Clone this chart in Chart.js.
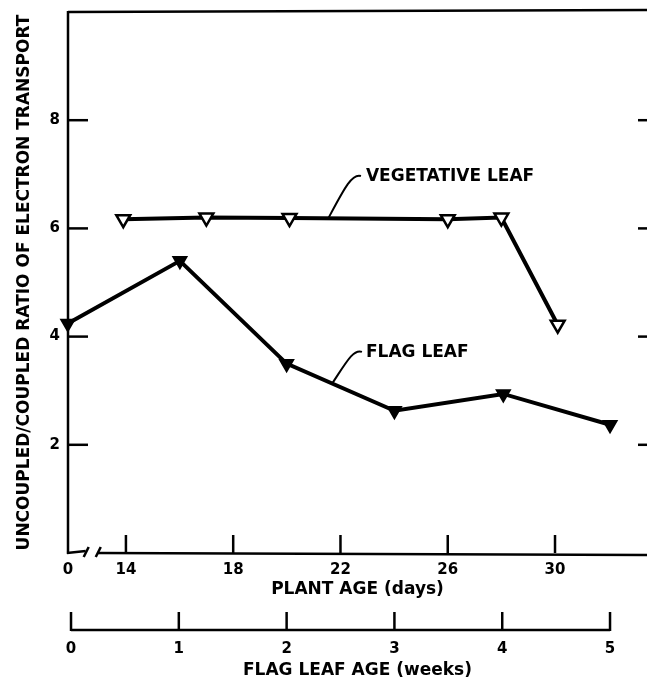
<!DOCTYPE html>
<html>
<head>
<meta charset="utf-8">
<script src="https://cdn.jsdelivr.net/npm/chart.js@4.4.1/dist/chart.umd.min.js"></script>
<style>
  html, body { margin: 0; padding: 0; background: #fff; }
</style>
</head>
<body>
<canvas id="chart" width="647" height="679"></canvas>
<script>
// ==== Data ====
// plant age axis (days), broken between 0 and 14
const plantAgeTicks = [14, 18, 22, 26, 30];
const flagWeekTicks = [0, 1, 2, 3, 4, 5];
const ratioTicks = [2, 4, 6, 8];

// vegetative leaf, against plant age (days)
const vegDays = [13.9, 17.0, 20.1, 26.0, 28.0, 30.1];
const vegRatio = [6.17, 6.2, 6.19, 6.17, 6.2, 4.22];

// flag leaf, against flag leaf age (weeks)
const flagWeeks = [-0.03, 1.01, 2.0, 3.0, 4.01, 5.0];
const flagRatio = [4.24, 5.4, 3.5, 2.63, 2.94, 2.37];

const FONT = "'DejaVu Sans', sans-serif";
const DAY_MIN = 11.84, DAY_MAX = 33.43;
const WEEK_MIN = -0.028, WEEK_MAX = 5.343;

// ==== Axis lines, ticks, break and labels drawn on the scales ====
const axesFrame = {
  id: "axesFrame",
  beforeDatasetsDraw(chart) {
    const { ctx, chartArea: a, scales } = chart;
    const x = scales.x, xw = scales.xw, y = scales.y;
    const W = chart.width;
    const seg = (x1, y1, x2, y2) => { ctx.beginPath(); ctx.moveTo(x1, y1); ctx.lineTo(x2, y2); ctx.stroke(); };

    ctx.save();
    ctx.strokeStyle = "#000";
    ctx.lineWidth = 2.5;

    seg(a.left, a.top, W, a.top - 2);           // top edge
    seg(a.left, a.top - 1, a.left, a.bottom + 1); // left axis

    // bottom axis with break
    const b1 = x.getPixelForValue(12.5), b2 = x.getPixelForValue(12.95);
    seg(a.left - 1, a.bottom, b1, a.bottom - 2);
    seg(b1 - 2, a.bottom + 4, b1 + 3, a.bottom - 6);
    seg(b2 - 2, a.bottom + 4, b2 + 3, a.bottom - 6);
    seg(b2, a.bottom, W, a.bottom + 2);

    plantAgeTicks.forEach(v => {
      const px = x.getPixelForValue(v);
      seg(px, a.bottom, px, a.bottom - 18);
    });

    ratioTicks.forEach(v => {
      const py = y.getPixelForValue(v);
      seg(a.left, py, a.left + 20, py);
      seg(W - 9, py, W, py);
    });

    // flag leaf age axis
    const wy = xw.top + 17;
    const w0 = xw.getPixelForValue(flagWeekTicks[0]);
    const w5 = xw.getPixelForValue(flagWeekTicks[flagWeekTicks.length - 1]);
    seg(w0, wy, w5, wy);
    flagWeekTicks.forEach(v => {
      const px = xw.getPixelForValue(v);
      seg(px, wy + 1, px, wy - 18);
    });

    // series labels with curved leaders
    ctx.fillStyle = "#000";
    ctx.font = "bold 17px " + FONT;
    ctx.textBaseline = "middle";
    ctx.textAlign = "left";
    const vx = x.getPixelForValue(22.95), vy = y.getPixelForValue(6.95);
    ctx.fillText("VEGETATIVE LEAF", vx, vy);
    const fx = x.getPixelForValue(22.95), fy = y.getPixelForValue(3.7);
    ctx.fillText("FLAG LEAF", fx, fy);

    ctx.lineWidth = 2;
    ctx.beginPath();
    ctx.moveTo(vx - 5, vy - 1);
    ctx.bezierCurveTo(vx - 14, vy - 4, vx - 22, vy + 12, vx - 38, vy + 42);
    ctx.stroke();
    ctx.beginPath();
    ctx.moveTo(fx - 4, fy - 1);
    ctx.bezierCurveTo(fx - 13, fy - 4, fx - 20, fy + 10, fx - 34, fy + 31);
    ctx.stroke();

    ctx.restore();
  }
};

// drop the automatic edge padding Chart.js adds for tick labels
const noEdgePad = s => { s.paddingLeft = 0; s.paddingRight = 0; s.paddingTop = 0; s.paddingBottom = 0; };

const ctx = document.getElementById("chart").getContext("2d");
new Chart(ctx, {
  type: "line",
  data: {
    datasets: [
      {
        label: "VEGETATIVE LEAF",
        data: vegDays.map((d, i) => ({ x: d, y: vegRatio[i] })),
        xAxisID: "x",
        yAxisID: "y",
        borderColor: "#000",
        borderWidth: 4,
        pointStyle: "triangle",
        pointRotation: 180,
        pointRadius: 8,
        pointBackgroundColor: "#fff",
        pointBorderColor: "#000",
        pointBorderWidth: 2.5,
        tension: 0,
        clip: false
      },
      {
        label: "FLAG LEAF",
        data: flagWeeks.map((w, i) => ({ x: w, y: flagRatio[i] })),
        xAxisID: "xw",
        yAxisID: "y",
        borderColor: "#000",
        borderWidth: 4,
        pointStyle: "triangle",
        pointRotation: 180,
        pointRadius: 7.5,
        pointBackgroundColor: "#000",
        pointBorderColor: "#000",
        pointBorderWidth: 2,
        tension: 0,
        clip: false
      }
    ]
  },
  options: {
    responsive: false,
    animation: false,
    devicePixelRatio: 1,
    layout: { autoPadding: false, padding: { top: 12, right: 0, left: 0, bottom: 0 } },
    plugins: { legend: { display: false }, tooltip: { enabled: false } },
    scales: {
      x: {
        type: "linear",
        position: "bottom",
        min: DAY_MIN,
        max: DAY_MAX,
        afterBuildTicks: s => { s.ticks = [DAY_MIN, ...plantAgeTicks].map(v => ({ value: v })); },
        afterFit: s => { s.height = 60; noEdgePad(s); },
        grid: { display: false, drawTicks: false },
        border: { display: false },
        ticks: {
          autoSkip: false, maxRotation: 0, padding: 8, color: "#000",
          font: { family: FONT, size: 15, weight: "bold" },
          callback: v => (v === DAY_MIN ? "0" : String(v))
        },
        title: {
          display: true, text: "PLANT AGE (days)", color: "#000",
          font: { family: FONT, size: 17, weight: "bold" },
          padding: { top: 0, bottom: 13 }
        }
      },
      xw: {
        type: "linear",
        position: "bottom",
        min: WEEK_MIN,
        max: WEEK_MAX,
        afterBuildTicks: s => { s.ticks = flagWeekTicks.map(v => ({ value: v })); },
        afterFit: s => { s.height = 66; noEdgePad(s); },
        grid: { display: false, drawTicks: false },
        border: { display: false },
        ticks: {
          autoSkip: false, maxRotation: 0, padding: 27, color: "#000",
          font: { family: FONT, size: 15, weight: "bold" }
        },
        title: {
          display: true, text: "FLAG LEAF AGE (weeks)", color: "#000",
          font: { family: FONT, size: 17, weight: "bold", lineHeight: 1 },
          padding: { top: 0, bottom: 0 }
        }
      },
      y: {
        type: "linear",
        min: 0,
        max: 10,
        afterBuildTicks: s => { s.ticks = ratioTicks.map(v => ({ value: v })); },
        afterFit: s => { s.width = 68; noEdgePad(s); },
        grid: { display: false, drawTicks: false },
        border: { display: false },
        ticks: {
          padding: 8, color: "#000",
          font: { family: FONT, size: 15, weight: "bold" }
        },
        title: {
          display: true, text: "UNCOUPLED/COUPLED RATIO OF ELECTRON TRANSPORT", color: "#000",
          font: { family: FONT, size: 17, weight: "bold" },
          padding: { top: 14, bottom: 0 }
        }
      }
    }
  },
  plugins: [axesFrame]
});
</script>
</body>
</html>
